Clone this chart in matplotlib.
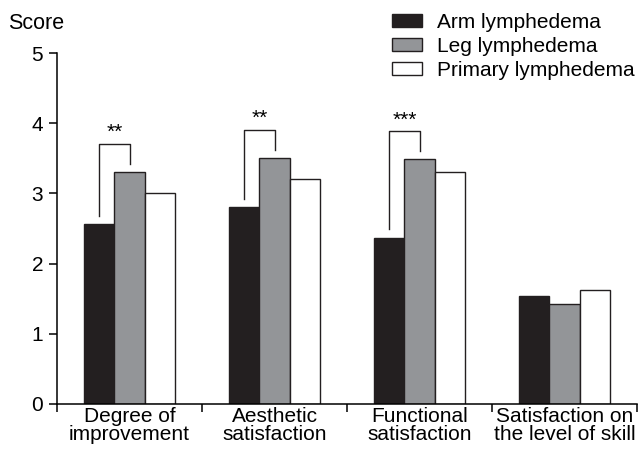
import numpy as np
import matplotlib
matplotlib.use("Agg")
import matplotlib.pyplot as plt
from matplotlib.patches import Patch

plt.rcParams["font.family"] = ["Liberation Sans", "DejaVu Sans"]

categories = ["Degree of\nimprovement", "Aesthetic\nsatisfaction",
              "Functional\nsatisfaction", "Satisfaction on\nthe level of skill"]
series = ["Arm lymphedema", "Leg lymphedema", "Primary lymphedema"]
arm = [2.56, 2.80, 2.37, 1.54]
leg = [3.31, 3.51, 3.49, 1.42]
primary = [3.01, 3.21, 3.30, 1.63]
# significance arm vs leg, per category (None = not shown)
sig = ["**", "**", "***", None]

colors = ["#231f20", "#939598", "white"]
values = [arm, leg, primary]

fig = plt.figure(figsize=(6.41, 4.57), dpi=100)
ax = fig.add_axes([0.089, 0.116, 0.905, 0.768])

x = np.arange(len(categories))
w = 0.21
for i, (vals, c) in enumerate(zip(values, colors)):
    ax.bar(x + (i - 1) * w, vals, w, color=c, edgecolor="#231f20", linewidth=1.0,
           label=series[i], zorder=2)

# brackets
for i, s in enumerate(sig):
    if s is None:
        continue
    xl, xr = x[i] - w, x[i]
    top = leg[i] + 0.40
    ax.plot([xl, xl, xr, xr], [arm[i] + 0.12, top, top, leg[i] + 0.11],
            color="#231f20", lw=1.0, zorder=3)
    ax.text((xl + xr) / 2, top + 0.02, s, ha="center", va="bottom", fontsize=15)

ax.set_xlim(-0.5, 3.5)
ax.set_ylim(0, 5)
ax.set_yticks(range(6))
ax.tick_params(axis="y", labelsize=15, length=6, width=1.1, pad=4)
ax.set_xticks(np.arange(-0.5, 4, 1.0))
ax.set_xticklabels([])
ax.set_xticks(x, minor=True)
ax.set_xticklabels(categories, minor=True, fontsize=15, linespacing=0.95)
ax.tick_params(axis="x", which="major", length=6, width=1.1)
ax.tick_params(axis="x", which="minor", length=0, pad=2)
for sp in ["top", "right"]:
    ax.spines[sp].set_visible(False)
for sp in ["left", "bottom"]:
    ax.spines[sp].set_linewidth(1.1)

fig.text(0.012, 0.948, "Score", fontsize=15.5, va="center", ha="left")

handles = [Patch(facecolor=c, edgecolor="#231f20", linewidth=1.0) for c in colors]
fig.legend(handles, series, loc="upper left", bbox_to_anchor=(0.611, 0.972),
           frameon=False, fontsize=15, handlelength=1.45, handleheight=0.6,
           labelspacing=0.24, handletextpad=0.75, borderaxespad=0, borderpad=0)

fig.savefig("out.png", dpi=100)
